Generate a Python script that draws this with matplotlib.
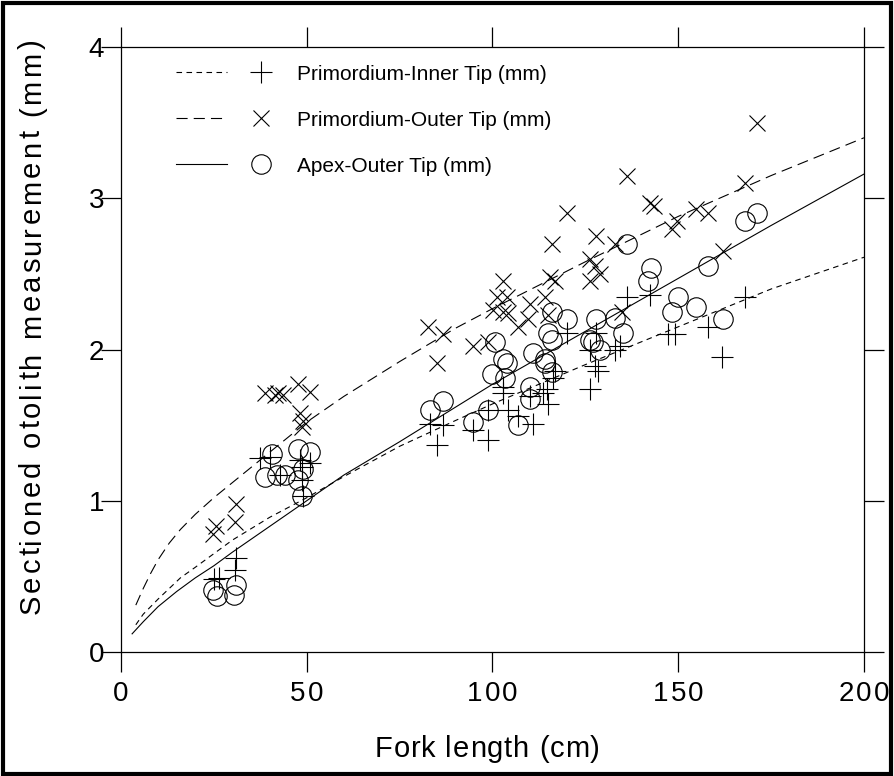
import matplotlib
matplotlib.use('Agg')
import matplotlib.pyplot as plt
from matplotlib import font_manager
from matplotlib.ft2font import FT2Font
from matplotlib.legend_handler import HandlerTuple
from matplotlib.patches import Rectangle

# fitted curves
fit_x = [4, 6, 8, 10, 13, 16, 20, 25, 30, 40, 50, 60, 75, 90, 100, 125, 150, 175, 200]
inner_fit = [0.18, 0.25, 0.30, 0.35, 0.42, 0.49, 0.56, 0.65, 0.74, 0.89, 1.02, 1.16, 1.36,
             1.53, 1.64, 1.90, 2.15, 2.40, 2.61]
outer_fit = [0.31, 0.42, 0.52, 0.61, 0.72, 0.81, 0.91, 1.02, 1.12, 1.32, 1.52, 1.69, 1.92,
             2.14, 2.27, 2.58, 2.88, 3.15, 3.40]
apex_x = [3, 6, 10, 15, 20, 25, 30, 40, 50, 60, 75, 100, 125, 150, 175, 200]
apex_fit = [0.12, 0.20, 0.30, 0.40, 0.49, 0.57, 0.66, 0.83, 1.00, 1.17, 1.39, 1.77, 2.12,
            2.47, 2.82, 3.16]

# Primordium-Inner Tip (+)
inner_fl = [25.0, 26.3, 30.7, 31.0, 37.4, 40.1, 42.8, 48.2, 50.9, 48.6, 48.6, 48.9,
            83.2, 86.8, 85.0, 94.8, 98.9, 98.9, 102.9, 102.9, 104.3, 107.0, 111.0, 110.1,
            113.7, 114.6, 115.0, 116.4, 116.8, 120.0, 126.2, 126.2, 127.6, 128.5, 128.0,
            133.0, 134.3, 136.1, 142.4, 147.3, 149.1, 158.1, 161.7, 168.0]
inner_mm = [0.48, 0.49, 0.54, 0.62, 1.28, 1.29, 1.17, 1.27, 1.25, 1.22, 1.14, 1.03,
            1.51, 1.50, 1.37, 1.47, 1.40, 1.60, 1.75, 1.71, 1.60, 1.56, 1.51, 1.69,
            1.71, 1.74, 1.64, 1.81, 1.86, 2.11, 2.00, 1.74, 1.89, 1.86, 2.11,
            2.00, 2.02, 2.35, 2.36, 2.10, 2.10, 2.15, 1.95, 2.35]

# Primordium-Outer Tip (x)
outer_fl = [24.7, 25.6, 30.7, 31.1, 38.8, 41.5, 42.3, 43.7, 47.7, 50.9, 48.2, 49.1, 48.6,
            82.7, 86.8, 85.0, 94.8, 98.9, 100.2, 101.1, 102.9, 103.8, 102.9, 104.3, 107.0,
            109.7, 110.1, 114.1, 115.0, 115.5, 116.8, 115.9, 120.0, 126.2, 127.6, 128.9,
            126.2, 128.0, 133.0, 134.8, 136.1, 142.4, 143.5, 148.2, 149.6, 154.9, 158.1,
            162.1, 168.0, 171.1]
outer_mm = [0.78, 0.83, 0.86, 0.98, 1.71, 1.70, 1.71, 1.70, 1.77, 1.72, 1.58, 1.53, 1.49,
            2.15, 2.10, 1.91, 2.02, 2.05, 2.26, 2.35, 2.45, 2.35, 2.25, 2.24, 2.15,
            2.20, 2.30, 2.35, 2.23, 2.48, 2.45, 2.70, 2.90, 2.60, 2.55, 2.50,
            2.45, 2.75, 2.70, 2.25, 3.15, 2.97, 2.95, 2.80, 2.85, 2.93, 2.90,
            2.65, 3.10, 3.50]

# Apex-Outer Tip (o)
apex_fl = [24.7, 25.8, 31.0, 30.4, 40.6, 47.7, 50.9, 38.8, 41.9, 44.1, 49.1, 47.7, 48.8,
           83.2, 86.8, 94.8, 98.9, 100.7, 102.9, 103.8, 99.8, 103.4, 107.0, 110.1, 110.1,
           111.0, 114.1, 114.1, 115.9, 115.0, 115.9, 115.9, 120.0, 126.2, 127.0, 129.0,
           128.0, 133.0, 135.2, 136.1, 142.8, 141.9, 148.2, 150.0, 154.9, 158.1, 162.1,
           168.0, 171.1]
apex_mm = [0.41, 0.37, 0.44, 0.38, 1.31, 1.34, 1.32, 1.16, 1.17, 1.17, 1.21, 1.14, 1.03,
           1.60, 1.66, 1.52, 1.60, 2.05, 1.94, 1.91, 1.84, 1.81, 1.50, 1.75, 1.67,
           1.98, 1.94, 1.91, 1.85, 2.11, 2.06, 2.25, 2.20, 2.06, 2.05, 2.00,
           2.20, 2.21, 2.11, 2.70, 2.54, 2.45, 2.25, 2.35, 2.28, 2.55, 2.20,
           2.85, 2.90]

labels = ['Primordium-Inner Tip (mm)', 'Primordium-Outer Tip (mm)', 'Apex-Outer Tip (mm)']
x_ticks = [0, 50, 100, 150, 200]
y_ticks = [0, 1, 2, 3, 4]

plt.rcParams['font.family'] = ['Liberation Sans', 'DejaVu Sans']
ft = FT2Font(font_manager.findfont(font_manager.FontProperties(family='Liberation Sans')))

fig = plt.figure(figsize=(8.94, 7.76), dpi=100)
ax = fig.add_axes([0.1353, 0.1598, 0.9664 - 0.1353, 0.9394 - 0.1598])


def spaced_text(xy, s, size, track, coords, dx=0, dy=0, ha='center', vertical=False):
    # the original uses letter-spaced text, so lay it out one glyph at a time
    ft.set_size(size, 72)
    adv = [ft.load_char(ord(c)).linearHoriAdvance / 65536 for c in s]
    total = sum(adv) + track * (len(s) - 1)
    pos = {'left': 0, 'center': -total / 2, 'right': -total}[ha]
    for c, a in zip(s, adv):
        off = (dx, dy + pos) if vertical else (dx + pos, dy)
        ax.annotate(c, xy, xycoords=coords, xytext=off, textcoords='offset points',
                    fontsize=size, rotation=90 if vertical else 0, rotation_mode='anchor',
                    ha='left', va='baseline', annotation_clip=False)
        pos += a + track


short_dash = (0, (5, 4))
long_dash = (0, (10, 5.5))

l1, = ax.plot(fit_x, inner_fit, color='k', lw=0.8, linestyle=short_dash)
l2, = ax.plot(fit_x, outer_fit, color='k', lw=0.8, linestyle=long_dash)
l3, = ax.plot(apex_x, apex_fit, color='k', lw=0.8)

m1, = ax.plot(inner_fl, inner_mm, '+', color='k', ms=16, mew=0.8, linestyle='none')
m2, = ax.plot(outer_fl, outer_mm, 'x', color='k', ms=12, mew=0.8, linestyle='none')
m3, = ax.plot(apex_fl, apex_mm, 'o', mfc='none', mec='k', ms=14, mew=0.8, linestyle='none')

ax.set_xlim(0, 200)
ax.set_ylim(0, 4)
ax.set_xticks(x_ticks)
ax.set_yticks(y_ticks)
ax.tick_params(direction='out', length=14.5, width=0.9, top=True, right=True,
               labelbottom=False, labelleft=False)
for s in ax.spines.values():
    s.set_linewidth(0.9)

for t in x_ticks:
    spaced_text((t, 0), str(t), 20, 1.5, ax.get_xaxis_transform(), dy=-35.3)
for t in y_ticks:
    spaced_text((0, t), str(t), 20, 1.5, ax.get_yaxis_transform(), dx=-12.2, dy=-7.2,
                ha='right')

spaced_text((0.545, 0.0245), 'Fork length (cm)', 21, 0.6, 'figure fraction')
spaced_text((0.0447, 0.579), 'Sectioned otolith measurement (mm)', 21, 2.1,
            'figure fraction', vertical=True)

ax.legend([(l1, m1), (l2, m2), (l3, m3)], labels,
          handler_map={tuple: HandlerTuple(ndivide=None, pad=0.4)},
          loc='upper left', bbox_to_anchor=(0.049, 1.002), frameon=False,
          fontsize=15, handlelength=5.3, handletextpad=0.5, labelspacing=1.3)

# black frame round the whole picture
fig.patches.append(Rectangle((0.003, 0.002), 0.994, 0.994, transform=fig.transFigure,
                             fill=False, edgecolor='k', lw=3))

fig.savefig('out.png', dpi=100)
